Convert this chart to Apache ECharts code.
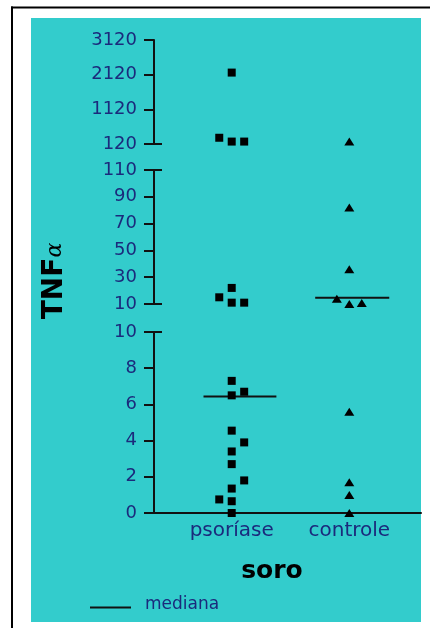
<!DOCTYPE html>
<html><head><meta charset="utf-8">
<script src="https://cdn.jsdelivr.net/npm/echarts@6/dist/echarts.min.js"></script>
<style>html,body{margin:0;padding:0;background:#fff}#c{width:430px;height:628px}</style>
</head><body><div id="c"></div>
<script>
// ---- data ----
const categories = ['psoríase', 'controle'];
const topTicks = [120, 1120, 2120, 3120];
const midTicks = [10, 30, 50, 70, 90, 110];
const lowTicks = [0, 2, 4, 6, 8, 10];
// TNF-alpha values and dot column (-1 left, 0 centre, 1 right) in the dot plot
const psorValues = [2180, 300, 190, 190, 15, 22, 11, 11, 7.3, 6.5, 6.7, 4.55, 3.9, 3.4, 2.7, 1.8, 1.35, 0.75, 0.65, 0];
const psorSlots  = [0, -1, 0, 1, -1, 0, 0, 1, 0, 0, 1, 0, 1, 0, 0, 1, 0, -1, 0, 0];
const ctrlValues = [190, 82, 36, 14, 10, 10.8, 5.6, 1.7, 1.0, 0];
const ctrlSlots  = [0, 0, 0, -1, 0, 1, 0, 0, 0, 0];
const medians = [6.43, 14.7];

// ---- layout / style ----
const FONT = 'DejaVu Sans';
const NAVY = '#1b2a7c';
const INK = '#111';
const SLOT = 0.106;
const X_MIN = 0.339, X_MAX = 2.61;
const MED_L = [0.24, 0.29], MED_R = [0.38, 0.34];
const BRK_W = 0.068; // right-hand stub of the axis-break ticks
const segments = [
  { min: 120, max: 3120, ticks: topTicks, brk: [120], top: 40, bottom: 628 - 144, test: v => v > 110 },
  { min: 10, max: 110, ticks: midTicks, brk: [10, 110], top: 170, bottom: 628 - 304, test: v => v >= 10 && v <= 110 },
  { min: 0, max: 10, ticks: lowTicks, brk: [10], top: 332, bottom: 628 - 513, test: v => v < 10 }
];
const groups = [
  { values: psorValues, slots: psorSlots, symbol: 'rect', size: 8 },
  { values: ctrlValues, slots: ctrlSlots, symbol: 'triangle', size: [10, 8] }
];

const grid = segments.map(s => ({ left: 154, right: 9, top: s.top, bottom: s.bottom }));
const xAxis = segments.map((s, i) => ({
  type: 'value', gridIndex: i, min: X_MIN, max: X_MAX,
  show: i === 2,
  axisLine: { show: true, onZero: false, lineStyle: { color: INK, width: 2 } },
  axisTick: { show: false },
  splitLine: { show: false },
  axisLabel: {
    customValues: [1, 2], margin: 8,
    formatter: v => categories[Math.round(v) - 1] || '',
    color: NAVY, fontFamily: FONT, fontSize: 20
  }
}));
const yAxis = segments.map((s, i) => ({
  type: 'value', gridIndex: i, min: s.min, max: s.max, position: 'left',
  axisLine: { show: true, onZero: false, lineStyle: { color: INK, width: 2 } },
  axisTick: { show: true, customValues: s.ticks, length: 10, lineStyle: { color: INK, width: 2 } },
  axisLabel: { customValues: s.ticks, formatter: v => String(v), margin: 17, color: NAVY, fontFamily: FONT, fontSize: 18 },
  splitLine: { show: false }
}));

const series = [];
groups.forEach((g, ci) => {
  segments.forEach((s, si) => {
    const data = [];
    g.values.forEach((v, k) => { if (s.test(v)) data.push([ci + 1 + g.slots[k] * SLOT, v]); });
    series.push({
      type: 'scatter', xAxisIndex: si, yAxisIndex: si, data,
      symbol: g.symbol, symbolSize: g.size, clip: false,
      itemStyle: { color: '#000', opacity: 1 }, z: 5
    });
  });
  const m = medians[ci];
  const si = segments.findIndex(s => s.test(m));
  series.push({
    type: 'line', xAxisIndex: si, yAxisIndex: si, symbol: 'none', silent: true,
    data: [[ci + 1 - MED_L[ci], m], [ci + 1 + MED_R[ci], m]],
    lineStyle: { color: INK, width: 2 }, z: 4
  });
});
// axis-break stubs on the right of the y axis
segments.forEach((s, si) => {
  s.brk.forEach(b => {
    series.push({
      type: 'line', xAxisIndex: si, yAxisIndex: si, symbol: 'none', silent: true, clip: false,
      data: [[X_MIN, b], [X_MIN + BRK_W, b]],
      lineStyle: { color: INK, width: 2 }, z: 3
    });
  });
});

const graphic = [
  { type: 'rect', z: -10, shape: { x: 31, y: 18, width: 390, height: 604 }, style: { fill: '#33cccc' } },
  { type: 'rect', z: -9, shape: { x: 11, y: 6.5, width: 420, height: 2 }, style: { fill: '#000' } },
  { type: 'rect', z: -9, shape: { x: 11, y: 6.5, width: 2, height: 630 }, style: { fill: '#000' } },
  {
    type: 'text', x: 55, y: 281, rotation: Math.PI / 2,
    style: {
      text: '{a|TNF}{b|α}', align: 'center', verticalAlign: 'middle',
      rich: {
        a: { fontFamily: FONT, fontWeight: 'bold', fontSize: 28, fill: '#000' },
        b: { fontFamily: 'DejaVu Serif', fontStyle: 'italic', fontSize: 22, fill: '#000' }
      }
    }
  },
  { type: 'text', x: 272, y: 571, style: { text: 'soro', align: 'center', verticalAlign: 'middle', fontFamily: FONT, fontWeight: 'bold', fontSize: 25, fill: '#000' } },
  { type: 'rect', shape: { x: 90, y: 606.5, width: 41, height: 2 }, style: { fill: INK } },
  { type: 'text', x: 145, y: 604.5, style: { text: 'mediana', align: 'left', verticalAlign: 'middle', fontFamily: FONT, fontSize: 17, fill: NAVY } }
];

const chart = echarts.init(document.getElementById('c'), null, { renderer: 'canvas' });
chart.setOption({ backgroundColor: '#fff', animation: false, grid, xAxis, yAxis, series, graphic });
</script></body></html>
